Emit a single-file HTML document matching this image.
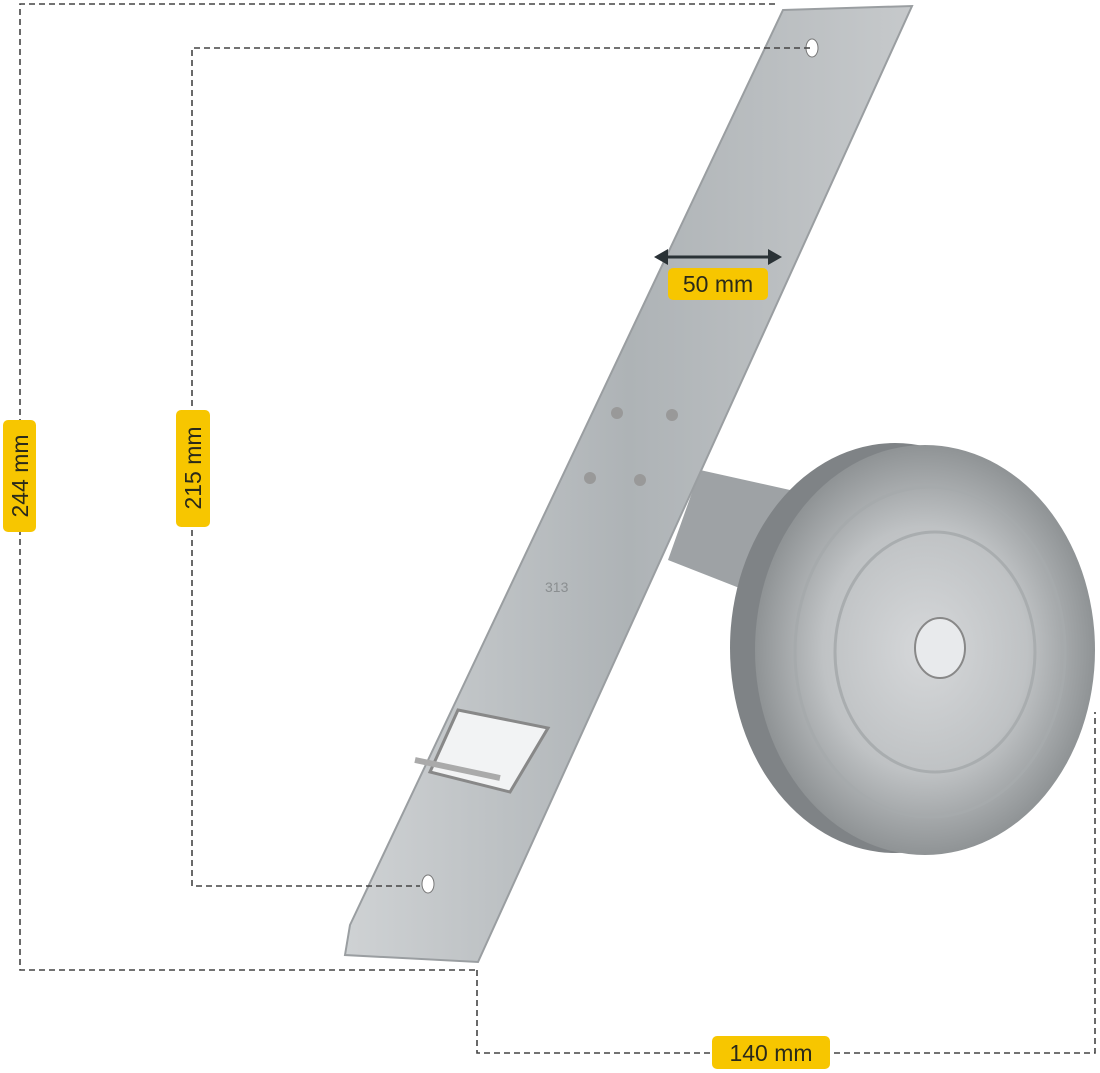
<!DOCTYPE html>
<html><head><meta charset="utf-8"><style>
html,body{margin:0;padding:0;background:#fff;}
svg{display:block}
text{font-family:"Liberation Sans","DejaVu Sans",sans-serif;fill:#2a2a1a;font-size:23px}
</style></head><body>
<svg width="1100" height="1073" viewBox="0 0 1100 1073">
<defs>
<linearGradient id="g1" x1="0" y1="0" x2="1" y2="0">
<stop offset="0" stop-color="#cfd2d4"/><stop offset="0.5" stop-color="#aeb3b6"/><stop offset="1" stop-color="#c6c9cb"/>
</linearGradient>
<radialGradient id="w1" cx="0.5" cy="0.5" r="0.5">
<stop offset="0" stop-color="#d6d8da"/><stop offset="0.6" stop-color="#bfc2c4"/><stop offset="1" stop-color="#8f9395"/>
</radialGradient>
</defs>
<!-- arm -->
<polygon points="700,470 790,490 770,600 668,560" fill="#9ea2a5"/>
<!-- wheel -->
<ellipse cx="895" cy="648" rx="165" ry="205" fill="#7f8386"/>
<ellipse cx="925" cy="650" rx="170" ry="205" fill="url(#w1)"/>
<ellipse cx="930" cy="652" rx="135" ry="165" fill="none" stroke="#a6aaac" stroke-width="3"/>
<ellipse cx="935" cy="652" rx="100" ry="120" fill="none" stroke="#a9adaf" stroke-width="3"/>
<ellipse cx="940" cy="648" rx="25" ry="30" fill="#e8eaec" stroke="#888" stroke-width="2"/>
<!-- bracket -->
<polygon points="783,10 912,6 478,962 345,955 350,925" fill="url(#g1)" stroke="#9a9ea1" stroke-width="2"/>
<ellipse cx="812" cy="48" rx="6" ry="9" fill="#fff" stroke="#777"/>
<ellipse cx="428" cy="884" rx="6" ry="9" fill="#fff" stroke="#777"/>
<circle cx="617" cy="413" r="6" fill="#999"/><circle cx="672" cy="415" r="6" fill="#999"/>
<circle cx="590" cy="478" r="6" fill="#999"/><circle cx="640" cy="480" r="6" fill="#999"/>
<text x="545" y="592" style="font-size:14px;fill:#8a8e90">313</text>
<polygon points="458,710 548,728 510,792 430,772" fill="#f2f3f4" stroke="#888" stroke-width="3"/>
<path d="M415,760 L500,778" stroke="#aaa" stroke-width="6"/>
<!-- dashed dims -->
<g stroke="#444" stroke-width="1.6" stroke-dasharray="6,4" fill="none">
<path d="M775,4 H20 V970 H475"/>
<path d="M810,48 H192 V886 H420"/>
<path d="M477,970 V1053 H1095 V712"/>
</g>
<!-- 50 mm arrow -->
<line x1="662" y1="257" x2="775" y2="257" stroke="#2a3236" stroke-width="3"/>
<polygon points="654,257 668,249 668,265" fill="#2a3236"/>
<polygon points="782,257 768,249 768,265" fill="#2a3236"/>
<!-- labels -->
<rect x="668" y="268" width="100" height="32" rx="5" fill="#f7c600"/>
<text x="718" y="292" text-anchor="middle">50 mm</text>
<rect x="712" y="1036" width="118" height="33" rx="5" fill="#f7c600"/>
<text x="771" y="1061" text-anchor="middle">140 mm</text>
<rect x="3" y="420" width="33" height="112" rx="5" fill="#f7c600"/>
<text transform="translate(28,476) rotate(-90)" text-anchor="middle">244 mm</text>
<rect x="176" y="410" width="34" height="117" rx="5" fill="#f7c600"/>
<text transform="translate(201,468) rotate(-90)" text-anchor="middle">215 mm</text>
</svg>
</body></html>
